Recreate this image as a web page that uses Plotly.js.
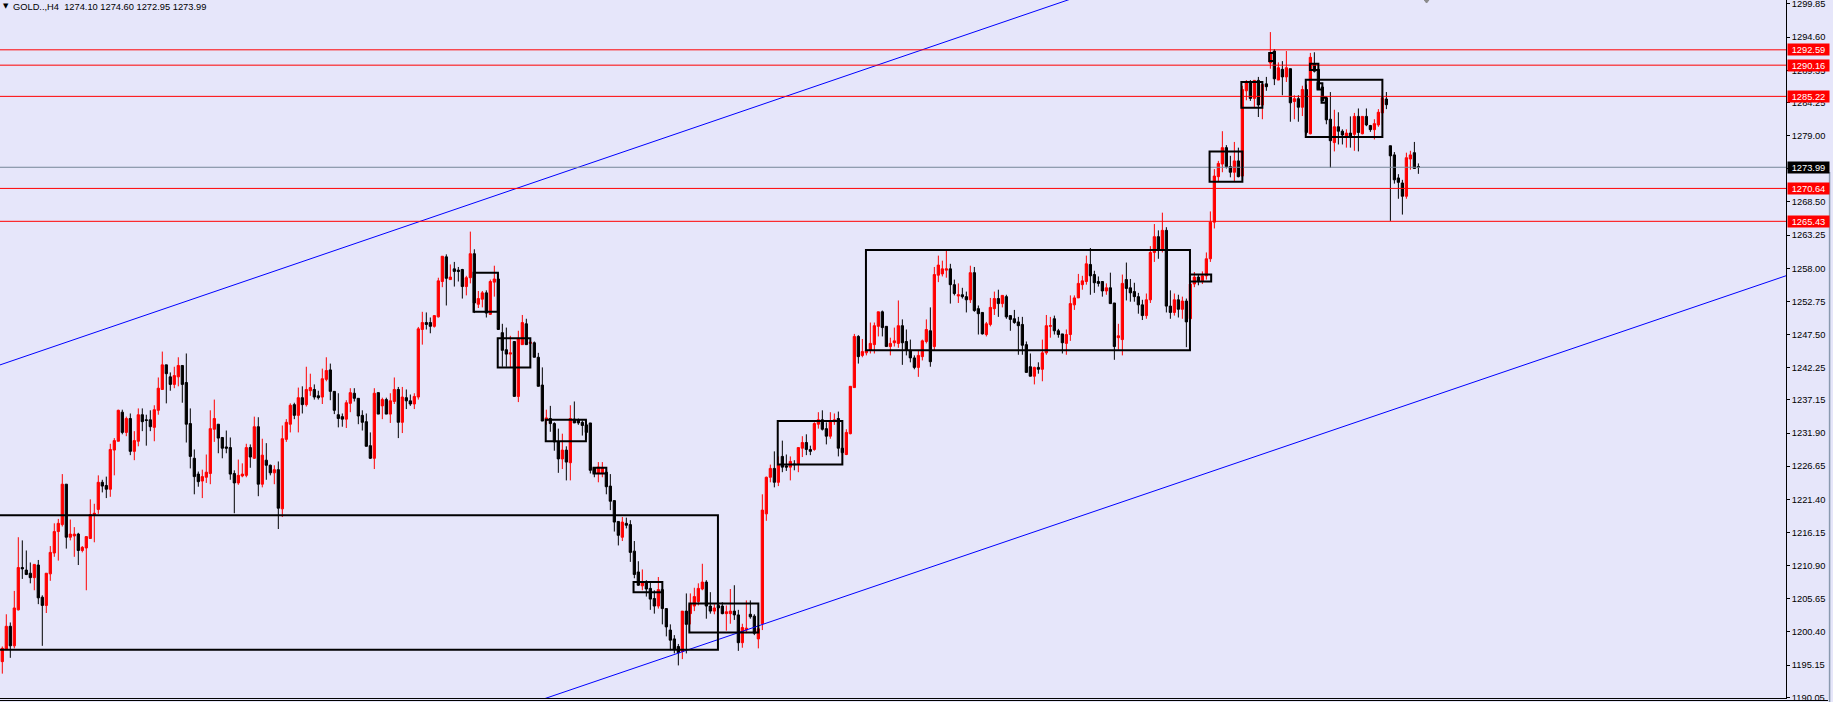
<!DOCTYPE html>
<html><head><meta charset="utf-8">
<script src="https://cdn.plot.ly/plotly-3.0.1.min.js"></script>
<style>html,body{margin:0;padding:0;background:#E6E6FA;overflow:hidden}#chart{width:1833px;height:702px}</style>
</head><body><div id="chart"></div>
<script>
const openP = [
1195.7,1197.6,1201.3,1198.2,1203.9,1210.6,1210.2,1209.7,1209.0,1211.0,
1205.9,1204.6,1209.6,1212.9,1216.3,1217.4,1223.8,1215.4,1215.6,1215.9,
1213.3,1213.7,1215.2,1219.0,1219.8,1224.1,1223.6,1223.0,1229.2,1230.6,
1235.2,1232.0,1234.2,1229.0,1230.6,1234.8,1234.0,1234.0,1232.8,1235.5,
1238.8,1242.7,1240.8,1239.6,1240.8,1242.6,1239.9,1233.4,1227.9,1225.4,
1224.3,1224.9,1225.5,1232.5,1233.3,1231.2,1229.7,1229.6,1225.5,1224.0,
1225.1,1225.2,1229.6,1227.9,1232.9,1223.8,1227.6,1226.8,1225.6,1226.1,
1219.9,1230.9,1233.3,1236.4,1234.7,1237.5,1236.4,1238.6,1238.8,1237.8,
1237.6,1240.4,1241.9,1238.5,1234.8,1234.5,1234.1,1236.6,1238.2,1237.4,
1234.7,1233.7,1229.9,1227.9,1238.3,1236.2,1237.2,1234.9,1236.9,1238.8,
1233.6,1237.5,1237.0,1236.5,1237.6,1248.3,1249.4,1249.4,1248.8,1250.3,
1255.9,1259.8,1256.2,1257.9,1257.7,1257.8,1255.1,1256.5,1260.3,1252.3,
1253.1,1254.1,1250.7,1255.8,1256.3,1247.8,1245.1,1244.4,1246.4,1237.7,
1245.9,1249.2,1246.1,1246.2,1243.9,1239.5,1233.9,1234.2,1233.4,1230.5,
1227.8,1229.2,1227.2,1234.1,1234.0,1233.6,1233.2,1233.5,1226.4,1225.5,
1225.6,1225.7,1223.5,1221.2,1217.9,1215.4,1217.6,1217.4,1213.2,1209.9,
1207.7,1208.3,1207.3,1205.7,1204.5,1207.1,1204.1,1200.7,1199.3,1198.1,
1197.3,1203.7,1203.3,1204.5,1205.2,1207.2,1208.3,1204.5,1203.7,1204.6,
1204.5,1203.3,1203.3,1203.7,1203.1,1198.7,1200.7,1203.2,1202.9,1199.3,
1201.7,1219.1,1224.9,1226.3,1224.1,1228.2,1226.7,1226.5,1227.0,1227.0,
1229.5,1230.4,1229.3,1229.3,1233.3,1234.0,1232.6,1231.4,1233.7,1234.2,
1229.5,1228.5,1231.8,1239.1,1247.2,1244.2,1244.6,1245.0,1245.9,1248.8,
1251.1,1248.8,1245.6,1246.2,1246.1,1248.9,1246.4,1245.0,1243.8,1242.3,
1244.0,1246.4,1248.1,1245.6,1256.9,1257.1,1257.7,1257.9,1255.4,1253.6,
1253.8,1253.5,1253.0,1257.3,1251.6,1251.0,1247.5,1249.1,1251.6,1253.2,
1252.4,1253.5,1250.5,1250.0,1249.5,1249.1,1245.9,1242.4,1240.9,1242.3,
1242.0,1244.6,1248.8,1250.0,1248.1,1247.6,1246.1,1247.5,1252.2,1253.3,
1255.4,1255.9,1258.6,1257.0,1255.9,1255.9,1254.4,1254.9,1252.5,1247.0,
1246.7,1256.2,1254.9,1254.3,1253.5,1252.2,1250.5,1253.0,1260.5,1263.0,
1261.0,1264.0,1252.0,1251.0,1253.0,1251.5,1252.8,1250.0,1255.5,1256.6,
1256.0,1256.8,1259.5,1265.3,1272.5,1274.5,1277.1,1274.1,1273.2,1275.0,
1272.6,1286.1,1287.4,1284.9,1287.75,1283.85,1287.2,1290.5,1292.4,1287.8,
1289.5,1288.3,1289.6,1284.4,1284.85,1283.5,1286.3,1279.3,1290.3,1289.5,
1286.7,1285.0,1281.6,1277.9,1280.4,1279.7,1278.7,1279.4,1279.2,1282.05,
1279.3,1282.05,1280.6,1279.95,1280.7,1282.6,1284.8,1277.4,1275.95,1272.3,
1271.5,1269.4,1275.3,1276.3,1274.10];
const highP = [
1198.1,1203.2,1201.9,1206.9,1215.4,1214.9,1213.3,1211.4,1211.1,1211.8,
1206.2,1209.7,1214.0,1217.6,1218.3,1225.4,1223.8,1218.2,1217.0,1216.1,
1214.0,1215.5,1221.4,1220.7,1225.2,1224.5,1225.0,1230.2,1231.1,1235.6,
1235.6,1234.5,1235.0,1232.2,1235.8,1235.8,1234.8,1235.5,1236.3,1240.7,
1244.8,1242.7,1241.5,1242.4,1243.9,1242.6,1244.5,1235.8,1229.3,1225.8,
1226.1,1228.5,1235.5,1237.2,1233.3,1231.2,1232.3,1231.2,1226.0,1227.7,
1227.1,1230.2,1230.1,1234.5,1234.4,1231.0,1230.3,1226.9,1226.8,1227.4,
1233.1,1234.1,1236.6,1236.7,1239.1,1239.3,1242.4,1241.3,1239.6,1238.6,
1242.1,1243.9,1242.9,1238.5,1238.2,1235.0,1237.1,1239.0,1239.0,1237.4,
1235.5,1235.0,1232.0,1239.0,1238.3,1237.5,1237.5,1238.2,1240.7,1239.2,
1239.2,1238.8,1238.0,1238.2,1248.7,1251.1,1251.0,1250.2,1250.5,1256.5,
1259.9,1260.2,1258.6,1259.0,1258.2,1257.9,1256.8,1263.8,1261.0,1254.4,
1254.4,1254.5,1256.2,1258.4,1257.3,1249.2,1248.6,1247.3,1246.4,1248.1,
1250.6,1250.0,1246.5,1246.4,1244.6,1242.3,1235.6,1236.2,1233.6,1232.6,
1231.8,1229.8,1236.3,1236.9,1234.2,1233.9,1233.9,1233.5,1226.4,1227.3,
1227.3,1226.2,1225.4,1221.2,1217.9,1218.6,1218.5,1218.1,1214.8,1211.6,
1210.3,1208.6,1208.2,1207.0,1209.1,1207.3,1204.1,1201.6,1199.9,1198.5,
1203.7,1206.5,1206.5,1207.4,1208.1,1211.2,1208.6,1206.7,1204.8,1205.0,
1205.1,1204.6,1207.2,1207.8,1203.9,1201.7,1205.4,1205.4,1203.2,1201.7,
1222.2,1225.0,1226.9,1229.0,1228.2,1230.7,1228.5,1228.2,1227.6,1229.6,
1231.4,1231.7,1229.9,1233.6,1235.2,1235.5,1233.6,1235.2,1235.0,1235.3,
1229.5,1232.5,1239.3,1247.6,1247.4,1246.8,1246.0,1249.4,1249.4,1251.1,
1251.3,1248.8,1247.0,1248.6,1252.9,1249.9,1248.3,1246.7,1244.2,1245.0,
1246.7,1249.9,1251.8,1258.2,1260.0,1259.2,1260.8,1258.7,1256.2,1255.6,
1254.9,1254.3,1258.4,1258.2,1252.1,1251.0,1249.5,1253.3,1254.3,1254.6,
1253.7,1253.8,1250.5,1251.4,1250.3,1250.3,1246.4,1244.5,1242.4,1243.1,
1246.7,1250.6,1250.3,1250.5,1248.4,1247.6,1248.3,1253.7,1253.7,1257.1,
1256.8,1260.0,1261.2,1257.6,1256.7,1255.9,1255.6,1257.3,1252.5,1249.2,
1257.0,1258.9,1256.3,1255.7,1254.1,1253.0,1254.0,1261.5,1265.0,1264.0,
1266.8,1264.5,1254.5,1254.0,1253.8,1253.5,1253.2,1256.3,1257.4,1257.0,
1257.5,1260.5,1267.0,1273.7,1275.0,1279.7,1277.5,1275.8,1278.0,1277.1,
1286.9,1287.8,1287.8,1287.8,1288.3,1287.2,1288.3,1295.4,1292.7,1290.6,
1290.8,1292.4,1289.6,1285.4,1285.4,1286.9,1287.1,1292.1,1292.2,1289.5,
1286.7,1285.0,1285.9,1283.1,1282.7,1280.0,1280.0,1282.05,1282.6,1283.3,
1282.1,1283.3,1280.7,1281.6,1283.2,1285.5,1285.9,1277.4,1276.4,1272.9,
1272.0,1276.3,1276.6,1278.0,1274.60];
const lowP = [
1193.8,1197.6,1196.3,1197.8,1203.8,1208.8,1209.4,1208.1,1207.0,1204.8,
1198.2,1203.4,1208.5,1212.3,1211.7,1217.1,1213.6,1214.9,1212.3,1211.0,
1213.0,1207.0,1215.2,1214.6,1219.1,1222.5,1221.6,1221.8,1225.2,1230.6,
1231.7,1231.4,1228.4,1227.6,1229.8,1232.2,1229.9,1232.2,1230.6,1234.8,
1238.8,1236.6,1238.6,1239.0,1239.3,1236.7,1230.4,1226.3,1222.2,1223.4,
1221.6,1224.0,1223.8,1230.5,1228.7,1227.9,1228.7,1224.5,1219.2,1223.7,
1224.9,1224.9,1226.4,1227.8,1221.9,1223.3,1224.5,1225.2,1223.8,1216.7,
1218.6,1230.5,1232.0,1234.1,1232.0,1235.0,1236.1,1237.8,1237.2,1237.2,
1236.5,1240.1,1237.1,1234.9,1232.8,1232.9,1232.7,1235.2,1236.9,1233.3,
1232.3,1229.8,1227.8,1226.2,1234.9,1234.1,1234.9,1233.5,1236.5,1231.1,
1231.9,1235.7,1236.2,1235.7,1237.2,1245.9,1248.3,1247.7,1248.6,1250.2,
1255.0,1252.1,1256.2,1255.1,1255.9,1253.2,1253.7,1255.6,1250.9,1251.7,
1251.8,1250.2,1250.6,1253.5,1248.3,1242.4,1242.4,1242.3,1237.7,1236.8,
1245.9,1245.9,1246.0,1243.9,1239.3,1233.8,1233.2,1232.1,1229.1,1225.6,
1226.2,1224.4,1224.4,1233.5,1233.2,1231.5,1231.0,1225.5,1224.9,1224.1,
1224.9,1222.2,1219.7,1216.3,1214.1,1214.8,1216.8,1211.5,1208.9,1207.7,
1207.0,1206.0,1203.9,1203.3,1204.1,1201.6,1199.7,1197.5,1197.0,1195.1,
1196.1,1197.0,1201.6,1203.7,1204.6,1207.0,1202.5,1203.3,1203.2,1203.9,
1203.2,1200.6,1201.7,1202.3,1197.4,1197.9,1200.2,1202.5,1199.9,1197.8,
1200.7,1218.0,1224.1,1223.3,1223.5,1225.7,1225.9,1224.4,1226.0,1225.7,
1228.1,1228.4,1228.4,1229.1,1232.6,1232.3,1230.1,1231.0,1233.2,1228.2,
1228.5,1228.4,1231.7,1239.1,1242.9,1243.9,1244.2,1244.5,1244.5,1247.2,
1247.2,1245.6,1244.2,1245.6,1245.4,1242.7,1244.2,1243.1,1242.0,1240.8,
1243.4,1246.1,1242.4,1244.9,1255.8,1256.7,1256.5,1252.4,1253.7,1252.5,
1253.2,1251.0,1252.5,1251.1,1247.5,1247.5,1247.2,1248.8,1250.6,1250.3,
1251.8,1250.0,1248.1,1249.2,1244.3,1244.3,1241.5,1240.9,1239.6,1241.3,
1240.1,1244.3,1247.0,1247.5,1247.0,1244.5,1244.3,1246.5,1251.4,1253.3,
1254.6,1255.4,1253.8,1254.1,1255.1,1253.5,1253.8,1252.4,1243.5,1245.1,
1244.2,1252.9,1252.7,1252.7,1250.8,1249.8,1250.0,1252.5,1259.0,1259.5,
1260.5,1251.0,1250.0,1250.5,1250.2,1250.0,1245.5,1249.5,1255.0,1255.3,
1255.5,1256.2,1259.0,1264.3,1271.8,1273.2,1273.8,1272.4,1271.8,1272.4,
1272.5,1284.6,1284.5,1283.4,1281.95,1281.6,1286.1,1289.6,1287.0,1287.8,
1285.4,1287.5,1281.2,1281.6,1281.2,1282.1,1279.2,1279.2,1289.0,1286.3,
1284.5,1280.8,1273.9,1276.5,1277.6,1277.6,1277.1,1277.1,1276.6,1276.5,
1279.2,1280.5,1279.6,1278.4,1280.4,1280.7,1283.2,1265.5,1271.4,1269.0,
1266.5,1269.0,1273.6,1273.8,1272.95];
const closeP = [
1197.8,1201.3,1198.2,1204.2,1210.6,1210.4,1209.5,1209.0,1211.1,1205.8,
1204.6,1209.7,1213.0,1216.3,1217.6,1223.8,1215.4,1215.9,1215.9,1213.3,
1213.8,1215.5,1219.0,1219.2,1224.1,1223.5,1223.0,1229.3,1230.7,1235.5,
1232.0,1234.2,1229.0,1230.7,1234.8,1233.7,1233.9,1232.9,1235.6,1239.0,
1242.7,1241.3,1239.6,1241.0,1242.6,1239.6,1233.3,1228.2,1225.0,1224.2,
1225.0,1225.7,1232.6,1234.2,1231.1,1229.5,1229.5,1225.4,1224.0,1225.2,
1225.4,1229.6,1228.1,1232.9,1223.8,1228.4,1226.8,1225.6,1226.1,1220.0,
1231.0,1233.6,1236.3,1234.7,1237.5,1236.4,1238.8,1239.1,1237.6,1237.5,
1240.5,1241.8,1238.5,1235.5,1234.2,1234.1,1236.7,1238.3,1237.4,1234.6,
1233.6,1229.8,1227.9,1238.2,1234.9,1237.2,1234.9,1237.0,1238.8,1233.6,
1237.6,1237.0,1236.5,1237.7,1248.4,1249.4,1249.1,1248.8,1250.5,1256.0,
1259.9,1256.4,1256.6,1257.5,1257.5,1255.1,1256.5,1260.3,1252.5,1253.2,
1254.1,1250.9,1255.9,1256.3,1248.3,1245.0,1244.4,1244.6,1237.7,1246.9,
1249.4,1245.9,1246.3,1243.9,1239.3,1233.8,1234.3,1233.4,1230.5,1227.8,
1229.2,1227.3,1234.2,1233.5,1233.5,1233.1,1232.0,1226.0,1225.5,1226.5,
1226.4,1223.4,1221.1,1217.8,1215.7,1217.8,1217.3,1213.0,1209.5,1207.8,
1208.2,1207.2,1205.6,1204.5,1207.1,1204.1,1201.2,1199.1,1197.7,1197.1,
1203.7,1201.6,1204.8,1206.0,1207.3,1208.3,1204.5,1203.7,1204.2,1204.2,
1203.3,1203.6,1203.7,1203.1,1198.7,1201.1,1201.0,1202.8,1200.2,1200.9,
1219.7,1224.9,1226.3,1224.1,1226.8,1226.5,1226.5,1227.4,1226.9,1229.6,
1230.4,1229.3,1229.0,1233.4,1234.0,1232.5,1231.4,1233.7,1234.0,1229.5,
1228.8,1232.0,1239.3,1247.2,1244.0,1244.8,1245.0,1246.1,1248.9,1251.1,
1248.6,1245.6,1246.1,1246.5,1248.9,1246.2,1245.0,1243.8,1242.3,1244.2,
1246.5,1248.3,1243.2,1257.0,1258.5,1257.9,1257.9,1255.4,1254.0,1253.8,
1253.5,1253.0,1257.3,1251.3,1250.8,1247.6,1249.2,1251.8,1253.2,1252.4,
1253.7,1250.3,1249.9,1249.4,1248.9,1245.8,1241.5,1240.9,1242.3,1242.0,
1244.6,1248.9,1248.9,1248.1,1247.5,1246.2,1247.5,1252.4,1253.3,1255.6,
1256.0,1258.7,1256.8,1255.7,1255.6,1254.4,1254.9,1252.4,1245.6,1247.3,
1255.6,1254.8,1254.1,1253.5,1252.2,1250.5,1253.0,1260.5,1263.0,1261.0,
1264.0,1252.0,1251.0,1253.0,1251.5,1252.8,1249.5,1255.5,1256.6,1256.0,
1256.8,1259.5,1265.3,1272.6,1274.6,1277.1,1274.1,1273.2,1275.0,1272.5,
1286.3,1287.4,1284.9,1287.75,1283.85,1287.1,1286.75,1292.1,1288.0,1289.75,
1288.3,1289.75,1284.2,1284.85,1283.5,1286.3,1279.5,1291.4,1289.2,1286.3,
1284.5,1281.5,1278.2,1280.4,1279.7,1279.1,1279.4,1278.7,1282.05,1279.5,
1282.05,1280.7,1279.95,1280.9,1282.7,1285.0,1283.9,1275.8,1272.0,1271.6,
1269.4,1275.5,1275.95,1273.8,1273.99];

const redLevels = [1292.59, 1290.16, 1285.22, 1270.64, 1265.43];
const lastPrice = 1273.99;
const tickVals = [1299.85,1294.60,1289.35,1284.25,1279.00,1273.75,1268.50,1263.25,1258.00,1252.75,1247.50,1242.25,1237.15,1231.90,1226.65,1221.40,1216.15,1210.90,1205.65,1200.40,1195.15,1190.05];
const headerText = 'GOLD..,H4\u00a0 1274.10 1274.60 1272.95 1273.99';

// channel lines: anchor points (bar index, price)
const upperChanX = [-0.575, 300];
const upperChanY = [1242.69, 1307.76];
const lowerChanX = [100, 460];
const lowerChanY = [1182.16, 1259.85];

// rectangles (bar index from/to, price low/high)
const boxX0 = [-10, 117.8, 123.85, 135.85, 147.8, 157.8, 171.75, 193.85, 215.9, 296.9, 301.8, 309.75, 316.7, 325.85, 326.9, 328.8, 329.8];
const boxX1 = [178.9, 123.9, 132.0, 145.9, 151.0, 165.0, 189.0, 210.0, 296.9, 302.2, 310.0, 315.0, 317.9, 345.0, 329.0, 330.0, 330.9];
const boxLo = [1197.6, 1251.1, 1242.3, 1230.6, 1225.5, 1206.7, 1200.3, 1226.9, 1245.0, 1255.9, 1271.7, 1283.4, 1290.8, 1278.8, 1289.4, 1286.3, 1284.2];
const boxHi = [1218.9, 1257.3, 1246.9, 1234.0, 1226.4, 1208.3, 1204.9, 1233.8, 1260.9, 1257.0, 1276.5, 1287.5, 1292.1, 1287.85, 1290.4, 1287.3, 1285.0];

const idx = openP.map((_, i) => i);
const FONT = 'Liberation Sans, Arial, sans-serif';

const traces = [
  {
    type: 'candlestick', x: idx, open: openP, high: highP, low: lowP, close: closeP,
    increasing: {line: {color: '#FF0000', width: 1}, fillcolor: '#FF0000'},
    decreasing: {line: {color: '#000000', width: 1}, fillcolor: '#000000'},
    whiskerwidth: 0, hoverinfo: 'skip', showlegend: false
  },
  {type: 'scatter', mode: 'lines', x: upperChanX, y: upperChanY, line: {color: '#0000FF', width: 1}, hoverinfo: 'skip', showlegend: false},
  {type: 'scatter', mode: 'lines', x: lowerChanX, y: lowerChanY, line: {color: '#0000FF', width: 1}, hoverinfo: 'skip', showlegend: false}
];

const shapes = [];
redLevels.forEach(v => shapes.push({type: 'line', xref: 'paper', yref: 'y', x0: 0, x1: 1, y0: v, y1: v, line: {color: '#FF0000', width: 1}, layer: 'above'}));
shapes.push({type: 'line', xref: 'paper', yref: 'y', x0: 0, x1: 1, y0: lastPrice, y1: lastPrice, line: {color: '#778899', width: 1}, layer: 'above'});
boxX0.forEach((x0, k) => shapes.push({type: 'rect', xref: 'x', yref: 'y', x0: x0, x1: boxX1[k], y0: boxLo[k], y1: boxHi[k], line: {color: '#000000', width: 2}, fillcolor: 'rgba(0,0,0,0)', layer: 'above'}));
// frame details
shapes.push({type: 'line', xref: 'paper', yref: 'paper', x0: 0, x1: 1.0235, y0: -0.0036, y1: -0.0036, line: {color: '#000000', width: 1}});
shapes.push({type: 'line', xref: 'paper', yref: 'paper', x0: 1.0244, x1: 1.0244, y0: 0.7536, y1: -0.006, line: {color: '#8a9ab0', width: 1.5}});
shapes.push({type: 'path', xref: 'x', yref: 'y', path: 'M 355.3 1300.6 L 356.8 1300.6 L 356.05 1300.0 Z', fillcolor: '#8a8a8a', line: {color: '#8a8a8a', width: 1}});

const annotations = [];
redLevels.forEach(v => annotations.push({xref: 'paper', yref: 'y', x: 1, y: v, xanchor: 'left', yanchor: 'middle', xshift: 1, text: v.toFixed(2), showarrow: false, font: {family: FONT, size: 9.3, color: '#FFFFFF'}, bgcolor: '#FF0000', width: 39, height: 9, borderpad: 1}));
annotations.push({xref: 'paper', yref: 'y', x: 1, y: lastPrice, xanchor: 'left', yanchor: 'middle', xshift: 1, text: lastPrice.toFixed(2), showarrow: false, font: {family: FONT, size: 9.3, color: '#FFFFFF'}, bgcolor: '#000000', width: 39, height: 9, borderpad: 1});
annotations.push({xref: 'paper', yref: 'paper', x: 0, y: 1, xanchor: 'left', yanchor: 'top', xshift: 1, yshift: 0, text: '\u25BC', showarrow: false, font: {family: 'DejaVu Sans', size: 7, color: '#000000'}});
annotations.push({xref: 'paper', yref: 'paper', x: 0, y: 1, xanchor: 'left', yanchor: 'top', xshift: 11, yshift: 0, text: headerText, showarrow: false, font: {family: FONT, size: 9.3, color: '#000000'}});

const layout = {
  width: 1833, height: 702,
  margin: {l: 0, r: 47, t: 0, b: 4, pad: 0},
  paper_bgcolor: '#E6E6FA', plot_bgcolor: '#E6E6FA',
  showlegend: false,
  boxgap: 0.25, boxgroupgap: 0.25,
  xaxis: {range: [-0.575, 445.9], showgrid: false, zeroline: false, showticklabels: false, ticks: '', showline: true, linecolor: '#000000', linewidth: 1, rangeslider: {visible: false}, fixedrange: true},
  yaxis: {side: 'right', range: [1189.94, 1300.48], tickmode: 'array', tickvals: tickVals, ticktext: tickVals.map(v => v.toFixed(2)), ticks: 'outside', ticklen: 3, tickcolor: '#000000', tickwidth: 1, showline: true, linecolor: '#000000', linewidth: 1, showgrid: false, zeroline: false, ticklabeloverflow: 'allow', tickfont: {family: FONT, size: 9.3, color: '#000000'}, fixedrange: true},
  shapes: shapes, annotations: annotations
};

Plotly.newPlot('chart', traces, layout, {displayModeBar: false, staticPlot: true});
</script>
</body></html>
